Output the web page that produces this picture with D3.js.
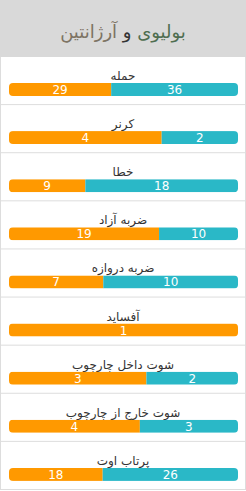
<!DOCTYPE html>
<html>
<head>
<meta charset="utf-8">
<script src="https://cdn.jsdelivr.net/npm/d3@7"></script>
<style>
  body { margin: 0; background: #fff; }
  svg { display: block; font-family: "DejaVu Sans", sans-serif; }
</style>
</head>
<body>
<div class="chart"></div>
<script>
// stats, top to bottom
var labels = ["حمله", "کرنر", "خطا", "ضربه آزاد", "ضربه دروازه", "آفساید", "شوت داخل چارچوب", "شوت خارج از چارچوب", "پرتاب اوت"];
var homeValues = [29, 4, 9, 19, 7, 1, 3, 4, 18];   // orange
var awayValues = [36, 2, 18, 10, 10, 0, 2, 3, 26]; // teal

var svgWidth = 246;
var svgHeight = 491;
var headerHeight = 57;
var barLeft = 9, barRight = 238, barHeight = 13;

var svg = d3.select(".chart")
  .append("svg")
  .attr("width", svgWidth)
  .attr("height", svgHeight);

// header
svg.append("rect")
  .attr("x", 0).attr("y", 0)
  .attr("width", svgWidth).attr("height", headerHeight)
  .attr("fill", "#d9d9d9");

var title = svg.append("text")
  .attr("x", svgWidth / 2)
  .attr("y", 38)
  .attr("text-anchor", "middle")
  .attr("direction", "rtl")
  .attr("font-size", 18);
title.append("tspan").attr("fill", "#4f6e50").text("بولیوی");
title.append("tspan").attr("fill", "#333").text(" و ");
title.append("tspan").attr("fill", "#7d7363").text("آرژانتین");

var yScale = d3.scaleBand()
  .domain(labels)
  .range([headerHeight, 490]);

// outer borders
svg.append("line")
  .attr("x1", 0.5).attr("x2", 0.5)
  .attr("y1", headerHeight).attr("y2", 490)
  .attr("stroke", "#ddd");
svg.append("line")
  .attr("x1", svgWidth - 0.5).attr("x2", svgWidth - 0.5)
  .attr("y1", headerHeight).attr("y2", 490)
  .attr("stroke", "#ddd");

var rows = svg.selectAll(".row")
  .data(labels)
  .enter()
  .append("g")
  .attr("class", "row")
  .attr("transform", function(d) { return "translate(0," + yScale(d) + ")"; });

rows.append("line")
  .attr("x1", 0).attr("x2", svgWidth)
  .attr("y1", yScale.bandwidth() - 0.5).attr("y2", yScale.bandwidth() - 0.5)
  .attr("stroke", "#ddd");

rows.append("text")
  .attr("x", svgWidth / 2)
  .attr("y", 23)
  .attr("text-anchor", "middle")
  .attr("direction", "rtl")
  .attr("font-size", 12)
  .attr("fill", "#333")
  .text(function(d) { return d; });

rows.append("clipPath")
  .attr("id", function(d, i) { return "clip" + i; })
  .append("rect")
  .attr("x", barLeft).attr("y", 26)
  .attr("width", barRight - barLeft).attr("height", barHeight)
  .attr("rx", 4);

rows.each(function(d, i) {
  var g = d3.select(this);
  var total = homeValues[i] + awayValues[i];
  var x = d3.scaleLinear().domain([0, total]).range([barLeft, barRight]);
  var bar = g.append("g").attr("clip-path", "url(#clip" + i + ")");

  var parts = [
    { start: 0, end: homeValues[i], color: "#ff9900", value: homeValues[i] },
    { start: homeValues[i], end: total, color: "#2ab8c7", value: awayValues[i] }
  ];

  parts.forEach(function(p) {
    if (p.value <= 0) return;
    bar.append("rect")
      .attr("x", x(p.start))
      .attr("y", 26)
      .attr("width", x(p.end) - x(p.start))
      .attr("height", barHeight)
      .attr("fill", p.color);
    g.append("text")
      .attr("x", (x(p.start) + x(p.end)) / 2)
      .attr("y", 37)
      .attr("text-anchor", "middle")
      .attr("font-size", 12)
      .attr("fill", "#fff")
      .text(p.value);
  });
});
</script>
</body>
</html>
